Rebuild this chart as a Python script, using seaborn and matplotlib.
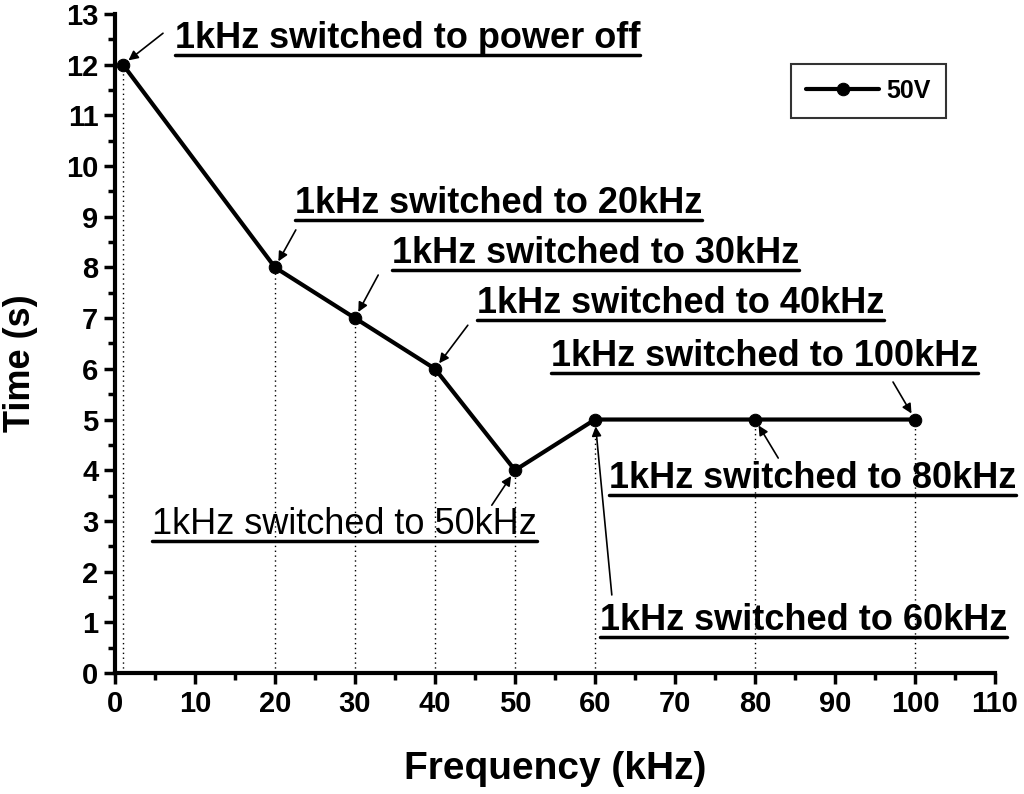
import matplotlib
matplotlib.use("Agg")
import matplotlib.pyplot as plt
import seaborn as sns
from matplotlib.lines import Line2D
from matplotlib.ticker import MultipleLocator

# === Data ===
freq = [1, 20, 30, 40, 50, 60, 80, 100]
time_s = [12, 8, 7, 6, 4, 5, 5, 5]

notes = [
    "1kHz switched to power off",
    "1kHz switched to 20kHz",
    "1kHz switched to 30kHz",
    "1kHz switched to 40kHz",
    "1kHz switched to 50kHz",
    "1kHz switched to 60kHz",
    "1kHz switched to 80kHz",
    "1kHz switched to 100kHz",
]
# text anchor (left, baseline) and arrow tail, in data units
note_xy = [(7.5, 12.33), (22.5, 9.07), (34.6, 8.09), (45.25, 7.10),
           (4.6, 2.74), (60.6, 0.85), (61.75, 3.65), (54.5, 6.06)]
tail_xy = [(6.0, 12.62), (22.6, 8.74), (32.9, 7.85), (44.1, 6.86),
           (47.1, 3.31), (62.1, 1.54), (82.9, 4.24), (97.25, 5.74)]
note_weight = ["bold", "bold", "bold", "bold", "normal", "bold", "bold", "bold"]

# === Style ===
sns.set_style("ticks")
plt.rcParams["font.family"] = ["Liberation Sans", "DejaVu Sans"]
plt.rcParams["font.weight"] = "bold"
for key in ["text.color", "axes.labelcolor", "xtick.color", "ytick.color",
            "axes.edgecolor"]:
    plt.rcParams[key] = "black"

fig = plt.figure(figsize=(10.24, 7.94), dpi=100)
ax = fig.add_axes([0.1123, 0.1524, 0.8594, 0.8300])

sns.lineplot(x=freq, y=time_s, ax=ax, color="black", lw=3, marker="o",
             markersize=9, markeredgecolor="black", label="50V")
ax.vlines(freq, 0, time_s, colors="black", linestyles=(0, (1, 2.5)), lw=1)

ax.set_xlim(0, 110)
ax.set_ylim(0, 13)
ax.xaxis.set_major_locator(MultipleLocator(10))
ax.xaxis.set_minor_locator(MultipleLocator(5))
ax.yaxis.set_major_locator(MultipleLocator(1))
ax.yaxis.set_minor_locator(MultipleLocator(0.5))
ax.tick_params(which="major", direction="out", length=8, width=2.5,
               labelsize=21, pad=4)
ax.tick_params(which="minor", direction="out", length=5, width=2.5)
for lab in ax.get_xticklabels() + ax.get_yticklabels():
    lab.set_fontweight("bold")

for side in ["top", "right"]:
    ax.spines[side].set_visible(False)
for side in ["left", "bottom"]:
    ax.spines[side].set_linewidth(3)

ax.set_xlabel("Frequency (kHz)", fontsize=28, fontweight="bold")
ax.set_ylabel("Time (s)", fontsize=26, fontweight="bold")
ax.xaxis.set_label_coords(0.5, -0.118)
ax.yaxis.set_label_coords(-0.088, 0.47)

leg = ax.legend(loc="upper right", bbox_to_anchor=(0.944, 0.924),
                borderaxespad=0, fancybox=False, edgecolor="black",
                handlelength=2.9, handletextpad=0.3,
                prop={"size": 18, "weight": "bold"}, borderpad=0.6)
leg.get_frame().set_linewidth(1.5)

# === Annotations ===
texts = []
for i, txt in enumerate(notes):
    t = ax.text(note_xy[i][0], note_xy[i][1], txt, fontsize=26,
                fontweight=note_weight[i], ha="left", va="baseline")
    texts.append(t)
    ax.annotate("", xy=(freq[i], time_s[i]), xytext=tail_xy[i],
                arrowprops=dict(arrowstyle="-|>", color="black", lw=1.2,
                                mutation_scale=14, shrinkA=0, shrinkB=5))

# underline each note
fig.canvas.draw()
for t in texts:
    bb = t.get_window_extent()
    base_y = ax.transData.transform(t.get_position())[1]
    fig.add_artist(Line2D([bb.x0, bb.x1], [base_y - 7, base_y - 7],
                          transform=None, color="black", lw=2.5))

fig.savefig("out.png", dpi=100)
plt.close(fig)
